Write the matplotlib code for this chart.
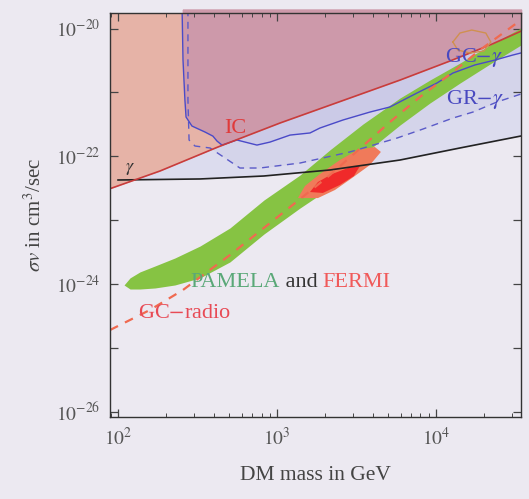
import numpy as np
import matplotlib
matplotlib.use("Agg")
import matplotlib.pyplot as plt
from matplotlib.ticker import FixedLocator, FuncFormatter, LogLocator, NullFormatter, NullLocator

plt.rcParams['font.family'] = ['Liberation Serif', 'DejaVu Serif']
plt.rcParams['mathtext.fontset'] = 'stix'

# ---- data: DM mass [GeV] and annihilation cross section <sigma v> [cm^3/s] ----
# Inverse-Compton bound
ic_mass = [88, 183.7, 425.6, 1045, 2877, 5943, 12250, 21880, 35000]
ic_sv = [3.08e-23, 5.89e-23, 1.40e-22, 3.32e-22, 8.17e-22, 1.56e-21, 3.10e-21, 5.52e-21, 9.3e-21]

# Diffuse gamma bound
gam_mass = [100, 328, 828, 2153, 5943, 14160, 35000]
gam_sv = [4.26e-23, 4.42e-23, 4.92e-23, 6.11e-23, 8.75e-23, 1.35e-22, 2.1e-22]

# Galactic-centre gamma bound
gc_mass = [253, 256.4, 263.6, 267.9, 291.7, 352.4, 395.4, 419.8, 450.8, 559.8, 748.2,
           903.6, 1208, 1614, 1862, 2600, 3846, 5140, 7603, 10140, 12790, 17580,
           23500, 30480, 35000]
gc_sv = [2e-20, 3.21e-21, 7.60e-22, 4.12e-22, 2.98e-22, 2.40e-22, 2.07e-22, 1.73e-22,
         1.50e-22, 1.80e-22, 1.50e-22, 1.67e-22, 2.15e-22, 2.32e-22, 2.77e-22, 3.70e-22,
         4.93e-22, 5.92e-22, 9.79e-22, 1.40e-21, 2.01e-21, 2.69e-21, 3.21e-21, 3.85e-21,
         4.2e-21]

# Galactic-ridge gamma bound
gr_mass = [275.4, 275.4, 279.9, 304.8, 379.3, 492.0, 584.8, 781.6, 1396, 2877, 5689,
           8279, 12790, 17100, 24210, 35000]
gr_sv = [2e-20, 7.60e-22, 1.80e-22, 1.45e-22, 1.35e-22, 8.75e-23, 6.56e-23, 6.56e-23,
         7.85e-23, 1.17e-22, 1.93e-22, 2.67e-22, 3.97e-22, 4.93e-22, 7.08e-22, 9.6e-22]

# Galactic-centre radio bound
radio_mass = [89.1, 158.9, 256.4, 505.8, 1045, 2153, 5140, 7925, 12790, 18920, 34280]
radio_sv = [1.91e-25, 3.94e-25, 8.09e-25, 2.85e-24, 1.20e-23, 5.09e-23, 3.44e-22,
            8.47e-22, 2.08e-21, 4.61e-21, 1.36e-20]

# PAMELA favoured band
pam_mass = [109.1, 119.0, 137.4, 170.9, 228.0, 328.0, 505.8, 828.3, 1396, 2153, 3475,
            5943, 9163, 14160, 21880, 34280]
pam_hi = [9.68e-25, 1.25e-24, 1.55e-24, 1.92e-24, 2.56e-24, 3.94e-24, 7.55e-24, 2.07e-23,
          5.09e-23, 1.26e-22, 3.20e-22, 8.17e-22, 1.56e-21, 2.88e-21, 5.52e-21, 1.02e-20]
pam_lo = [9.68e-25, 8.37e-25, 8.37e-25, 8.69e-25, 9.68e-25, 1.25e-24, 2.22e-24, 6.08e-24,
          1.55e-23, 3.19e-23, 1.05e-22, 3.09e-22, 6.82e-22, 1.40e-21, 2.78e-21, 5.52e-21]

# PAMELA + FERMI favoured regions (outer and inner contours)
fermi_out_mass = [1355, 1500, 1862, 2489, 3230, 4130, 4508, 3846, 2966, 2317, 1811]
fermi_out_sv = [2.22e-23, 3.43e-23, 5.28e-23, 8.75e-23, 1.26e-22, 1.40e-22, 1.17e-22,
                7.31e-23, 4.57e-23, 2.97e-23, 2.22e-23]
fermi_in_mass = [1614, 1811, 2218, 2799, 3327, 3048, 2489, 1945]
fermi_in_sv = [2.76e-23, 3.96e-23, 5.28e-23, 6.56e-23, 7.05e-23, 4.92e-23, 3.56e-23, 2.67e-23]

# small contour at high mass
hm_mass = [12790, 14160, 16830, 20610, 22170, 20040, 16370, 13740, 12790]
hm_sv = [6.15e-21, 8.51e-21, 9.48e-21, 8.51e-21, 6.15e-21, 4.45e-21, 4.14e-21, 4.61e-21, 6.15e-21]

x_ticks = [1e2, 1e3, 1e4]
y_decades = list(range(-26, -19))

# ---- figure ----
bg = '#ece9f1'
fig = plt.figure(figsize=(5.29, 4.99), dpi=100, facecolor=bg)
ax = fig.add_axes([0.2079, 0.1643, 0.7769, 0.8096])
ax.set_facecolor(bg)
ax.set_xscale('log')
ax.set_yscale('log')
ax.set_xlim(89, 34300)
ax.set_ylim(8.3e-27, 1.75e-20)

sv_top = 2e-20

# excluded regions
ax.fill_between(gam_mass, gam_sv, sv_top, color='#dcdcee', lw=0, zorder=1)
ax.fill_between(gr_mass, gr_sv, sv_top, color='#d4d4ea', lw=0, zorder=1.1)
ax.fill_between(gc_mass, gc_sv, sv_top, color='#cbcae7', lw=0, zorder=1.2)
ic_fill = ax.fill_between(ic_mass, ic_sv, sv_top, color='#e6b3a7', lw=0, zorder=1.3)
overlap = ax.fill_between(gc_mass, gc_sv, sv_top, color='#cd99aa', lw=0, zorder=1.4)
overlap.set_clip_path(ic_fill.get_paths()[0], ic_fill.get_transform())

# favoured regions
ax.fill_between(pam_mass, pam_lo, pam_hi, color='#86c343', lw=0, zorder=2)
ax.fill(fermi_out_mass, fermi_out_sv, color='#f07a5a', lw=0, zorder=2.1)
ax.fill(fermi_in_mass, fermi_in_sv, color='#f02a2a', lw=0, zorder=2.2)

# boundary lines
ax.plot(gam_mass, gam_sv, color='#222222', lw=1.2, zorder=3)
ax.plot(gr_mass, gr_sv, color='#5a5ac8', lw=1.0, ls=(0, (5, 4)), zorder=3)
ax.plot(gc_mass, gc_sv, color='#4a4ac8', lw=1.0, zorder=3)
ax.plot(ic_mass, ic_sv, color='#c83c3c', lw=1.2, zorder=3)
ax.plot(radio_mass, radio_sv, color='#f06a50', lw=1.6, ls=(0, (4, 3.5)), zorder=3.5)
ax.plot(hm_mass, hm_sv, color='#d09050', lw=1.0, zorder=3.5)

# labels on the curves
fs = 16
ax.text(0.304, 0.713, 'IC', color='#e03a3a', fontsize=fs, ha='center', va='center',
        transform=ax.transAxes, zorder=5)
ax.text(0.049, 0.614, r'$\gamma$', color='#333333', fontsize=13, ha='center', va='center',
        transform=ax.transAxes, zorder=5)
ax.text(0.886, 0.889, r'GC$-\gamma$', color='#4848c0', fontsize=fs, ha='center', va='center',
        transform=ax.transAxes, zorder=5)
ax.text(0.888, 0.785, r'GR$-\gamma$', color='#4848c0', fontsize=fs, ha='center', va='center',
        transform=ax.transAxes, zorder=5)
ax.text(0.068, 0.257, r'GC$-$radio', color='#e84a55', fontsize=fs, ha='left', va='center',
        transform=ax.transAxes, zorder=5)
t1 = ax.text(0.195, 0.332, 'PAMELA', color='#5aa878', fontsize=fs, ha='left', va='center',
             transform=ax.transAxes, zorder=5)
t2 = ax.annotate(' and ', xy=(1, 0), xycoords=t1, va='bottom', ha='left',
                 color='#333333', fontsize=fs, zorder=5)
ax.annotate('FERMI', xy=(1, 0), xycoords=t2, va='bottom', ha='left',
            color='#f05a5a', fontsize=fs, zorder=5)

# axes styling
ax.xaxis.set_major_locator(FixedLocator(x_ticks))
ax.xaxis.set_minor_locator(LogLocator(base=10, subs=np.arange(2, 10), numticks=20))
ax.xaxis.set_major_formatter(FuncFormatter(lambda v, p: r'$10^{%d}$' % round(np.log10(v))))
ax.xaxis.set_minor_formatter(NullFormatter())
ax.yaxis.set_major_locator(FixedLocator([10.0 ** e for e in y_decades]))
ax.yaxis.set_minor_locator(NullLocator())


def ylab(v, p):
    e = int(round(np.log10(v)))
    return r'$10^{%d}$' % e if e % 2 == 0 else ''


ax.yaxis.set_major_formatter(FuncFormatter(ylab))
ax.tick_params(which='both', direction='in', top=True, right=True, colors='#444444',
               labelcolor='#555555', labelsize=14)
ax.tick_params(which='major', length=6, width=0.9, pad=7)
ax.tick_params(which='minor', length=3, width=0.7)
for s in ax.spines.values():
    s.set_color('#333333')
    s.set_linewidth(1.0)
    s.set_zorder(6)

ax.set_xlabel('DM mass in GeV', fontsize=15.5, color='#444444', labelpad=12)
ax.set_ylabel(r'$\sigma v$ in cm$^3$/sec', fontsize=15, color='#444444', labelpad=7)

fig.savefig('out.png', dpi=100, facecolor=bg)
